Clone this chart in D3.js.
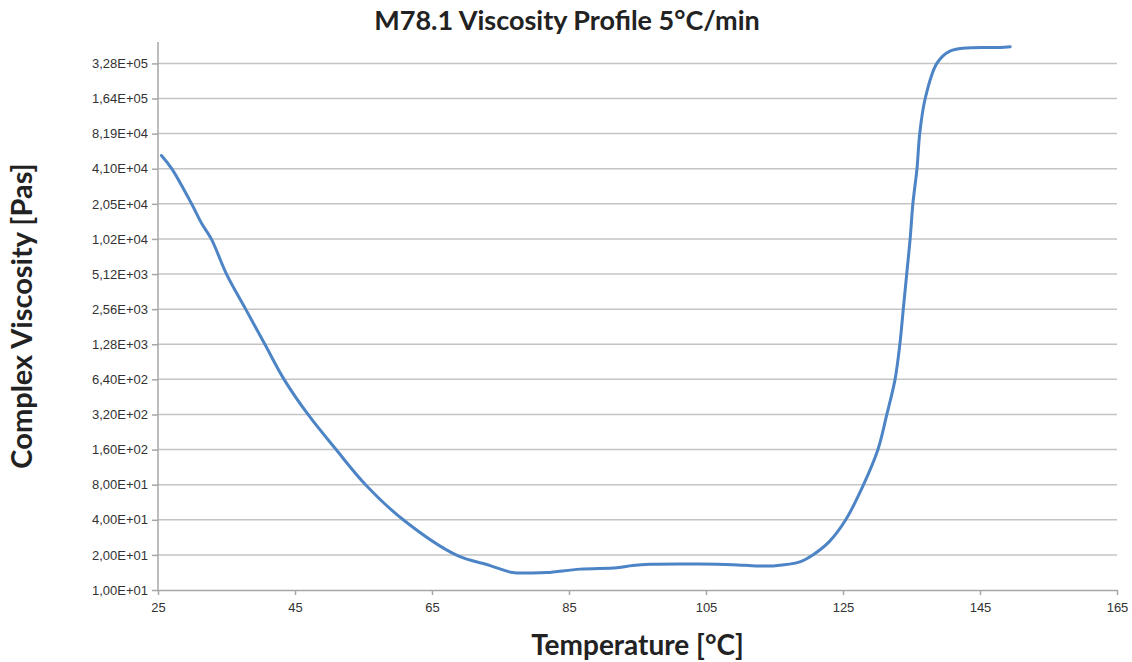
<!DOCTYPE html>
<html>
<head>
<meta charset="utf-8">
<script src="https://cdn.jsdelivr.net/npm/d3@7"></script>
<style>
body { margin: 0; background: #fff; }
svg { display: block; font-family: Lato, "Open Sans", sans-serif; }
</style>
</head>
<body>
<svg id="chart" width="1132" height="662"></svg>
<script>
// temperature [°C] and complex viscosity [Pas]
var temps = [25.5, 27.0, 29.9, 31.4, 32.8, 35.0, 37.8, 40.6, 43.4, 46.9, 51.0, 55.3, 60.8, 68.5, 73.5,
	76.8, 79.3, 81.8, 86.6, 92.0, 94.3, 96.8, 104.1, 108.9, 112.4, 114.8, 118.7, 120.6, 123.0, 125.4,
	128.0, 130.1, 131.4, 132.6, 133.3, 133.8, 134.3, 134.8, 135.2, 135.8, 136.2, 137.0, 138.7, 140.6,
	143.5, 147.9, 149.4];
var viscosity = [53200, 41000, 20500, 13800, 10200, 5120, 2560, 1280, 640, 320, 160, 80, 40, 20, 16.2,
	14.1, 14.0, 14.1, 15.1, 15.5, 16.2, 16.6, 16.7, 16.5, 16.1, 16.1, 17.4, 20, 26, 40,
	80, 160, 320, 640, 1280, 2560, 5120, 10240, 20480, 40960, 81920, 163840, 327680, 417000,
	446000, 449000, 455000];

var xTicks = [25, 45, 65, 85, 105, 125, 145, 165];
var yTicks = [10, 20, 40, 80, 160, 320, 640, 1280, 2560, 5120, 10240, 20480, 40960, 81920, 163840, 327680];
var yTickLabels = ['1,00E+01', '2,00E+01', '4,00E+01', '8,00E+01', '1,60E+02', '3,20E+02', '6,40E+02',
	'1,28E+03', '2,56E+03', '5,12E+03', '1,02E+04', '2,05E+04', '4,10E+04', '8,19E+04', '1,64E+05', '3,28E+05'];

(function(){
	var svg = d3.select('#chart');
	var mLeft = 158, mRight = 1117, mTop = 42, mBottom = 590;

	var x = d3.scaleLinear().domain([25, 165]).range([mLeft, mRight]);
	var y = d3.scaleLog().base(2).domain([10, 500000]).range([mBottom, mTop]);

	// horizontal gridlines
	svg.append('g').selectAll('line')
		.data(yTicks.slice(1))
		.enter()
		.append('line')
		.attr('x1', mLeft)
		.attr('x2', mRight)
		.attr('y1', function(d){ return y(d); })
		.attr('y2', function(d){ return y(d); })
		.attr('stroke', '#c4c4c4')
		.attr('stroke-width', 1.5);

	// y axis
	var yAxis = d3.axisLeft(y)
		.tickValues(yTicks)
		.tickSize(6)
		.tickPadding(4)
		.tickFormat(function(d, i){ return yTickLabels[i]; });
	var gy = svg.append('g').attr('transform', 'translate(' + mLeft + ',0)').call(yAxis);
	gy.select('.domain').attr('stroke', '#a6a6a6').attr('stroke-width', 1.5).attr('d', 'M0,' + mTop + 'V' + mBottom);
	gy.selectAll('.tick line').attr('stroke', '#a6a6a6').attr('stroke-width', 1.5);
	gy.selectAll('.tick text').attr('fill', '#333').style('font-size', '13px');

	// x axis
	var xAxis = d3.axisBottom(x)
		.tickValues(xTicks)
		.tickSize(5)
		.tickPadding(8)
		.tickSizeOuter(0);
	var gx = svg.append('g').attr('transform', 'translate(0,' + mBottom + ')').call(xAxis);
	gx.select('.domain').attr('stroke', '#a6a6a6').attr('stroke-width', 1.5);
	gx.selectAll('.tick line').attr('stroke', '#a6a6a6').attr('stroke-width', 1.5);
	gx.selectAll('.tick text').attr('fill', '#333').style('font-size', '13px');

	// viscosity curve
	var pts = temps.map(function(t, i){ return [t, viscosity[i]]; });
	var line = d3.line()
		.x(function(d){ return x(d[0]); })
		.y(function(d){ return y(d[1]); })
		.curve(d3.curveCatmullRom.alpha(0.5));
	svg.append('path')
		.datum(pts)
		.attr('d', line)
		.attr('fill', 'none')
		.attr('stroke', '#4c84c6')
		.attr('stroke-width', 3)
		.attr('stroke-linejoin', 'round')
		.attr('stroke-linecap', 'round');

	// titles
	svg.append('text')
		.attr('x', 567)
		.attr('y', 30)
		.attr('text-anchor', 'middle')
		.attr('font-weight', 'bold')
		.attr('font-size', '27px')
		.attr('fill', '#222')
		.text('M78.1 Viscosity Profile 5°C/min');

	svg.append('text')
		.attr('x', (mLeft + mRight) / 2)
		.attr('y', 655)
		.attr('text-anchor', 'middle')
		.attr('font-weight', 'bold')
		.attr('font-size', '28px')
		.attr('fill', '#222')
		.text('Temperature [°C]');

	svg.append('text')
		.attr('transform', 'translate(32,' + ((mTop + mBottom) / 2) + ') rotate(-90)')
		.attr('text-anchor', 'middle')
		.attr('font-weight', 'bold')
		.attr('font-size', '29px')
		.attr('fill', '#222')
		.text('Complex Viscosity [Pas]');
})();
</script>
</body>
</html>
